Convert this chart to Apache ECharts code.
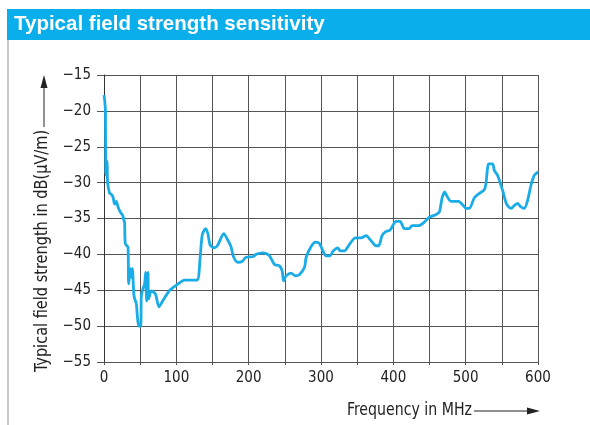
<!DOCTYPE html>
<html>
<head>
<meta charset="utf-8">
<script src="https://cdn.jsdelivr.net/npm/echarts@6/dist/echarts.min.js"></script>
<style>
  html, body { margin: 0; padding: 0; background: #fff; }
  #chart { width: 590px; height: 425px; }
</style>
</head>
<body>
<div id="chart"></div>
<script>
// frequency in MHz
var freq = [0, 1, 2, 2.4, 3.5, 4.3, 5, 7.8, 10, 12.4, 14.7, 17, 19.4, 22, 24, 26, 27.7, 28.5, 29.5, 33.2,
  33.6, 34.1, 36.4, 37.8, 39.2, 41.5, 44.7, 46.1, 48, 50.7, 51.6, 53.9, 56.2, 57.6, 59, 60.8, 61.8, 65.4,
  71, 76, 81.7, 90.8, 100, 111.5, 128.4, 133, 135.8, 140.4, 143.6, 146.8, 152.8, 157.3, 165.6, 171.1,
  175.7, 178.9, 184.9, 190.8, 196.3, 206.4, 210.1, 219.3, 224.2, 228.8, 235.7, 242.6, 246.3, 248.2,
  251.8, 258.7, 264.7, 270.3, 277.2, 279.5, 286.4, 292.4, 298, 303.4, 307.1, 312.6, 316.3, 323.2, 326.4,
  332.4, 339.3, 347.6, 355.4, 362.3, 369.2, 376.1, 379.8, 384.4, 389.9, 395.5, 403.8, 409.3, 415.3,
  422.2, 425.9, 435.1, 442.9, 449.8, 458.1, 463.6, 467.3, 471, 473.7, 479.7, 490.3, 496.8, 500.5, 505.1,
  512, 518.9, 525.8, 528.1, 531.8, 537.3, 539.6, 544.2, 551.1, 556.6, 562.6, 567.2, 571.8, 575.5, 581,
  585.6, 590.2, 594.8, 600];
// typical field strength in dB(uV/m)
var level = [-17.8, -18.6, -20, -28.5, -29, -27, -30, -31.5, -31.6, -32, -33, -32.6, -33.4, -34, -34.3, -34.6, -35.3, -35.6, -38.5, -39,
  -41, -44.1, -42, -43.2, -42, -45.8, -46.9, -48.6, -50, -50, -45.8, -44.8, -44.1, -42.5, -46.5, -42.5, -46.2, -45.1,
  -45.5, -47.3, -46.4, -45, -44.3, -43.6, -43.6, -40.3, -37.3, -36.4, -37.1, -38.7, -39.1, -38.7, -37.1, -38,
  -38.95, -40.3, -41.1, -41, -40.4, -40.3, -40, -39.8, -39.9, -40.2, -41.4, -41.6, -42.3, -43.7,
  -43, -42.6, -43, -42.8, -41.8, -40.4, -38.9, -38.3, -38.5, -39.7, -40.2, -40.2, -39.6, -39.1, -39.5,
  -39.5, -38.6, -37.7, -37.7, -37.4, -38.1, -38.8, -38.8, -37.4, -36.8, -36.6, -35.4, -35.4, -36.4,
  -36.4, -36, -36, -35.5, -34.8, -34.5, -34.1, -32.2, -31.3, -31.8, -32.6, -32.6, -33.2, -33.6, -33.6,
  -32.1, -31.5, -31, -30.1, -27.4, -27.4, -28.3, -29, -31.1, -33, -33.6, -33.2, -32.9, -33.3, -33.6,
  -32.5, -30.4, -29, -28.5];

var xTicks = [0, 100, 200, 300, 400, 500, 600];
var yTicks = [-55, -50, -45, -40, -35, -30, -25, -20, -15];

var pts = freq.map(function (f, i) { return [f, level[i]]; });

var narrow = "'DejaVu Sans Condensed', 'Liberation Sans Narrow', sans-serif";

var chart = echarts.init(document.getElementById('chart'));
var option = {
  animation: false,
  backgroundColor: '#fff',
  grid: { left: 104, right: 52, top: 75, bottom: 63 },
  xAxis: {
    type: 'value',
    min: 0, max: 600, interval: 50,
    axisLine: { lineStyle: { color: '#555', width: 1 } },
    axisTick: { show: true, length: 3, lineStyle: { color: '#555' } },
    splitLine: { lineStyle: { color: '#555', width: 1 } },
    axisLabel: {
      margin: 9, fontSize: 15, color: '#222', fontFamily: narrow,
      formatter: function (v) { return xTicks.indexOf(v) >= 0 ? String(v) : ''; }
    }
  },
  yAxis: {
    type: 'value',
    min: -55, max: -15, interval: 5,
    axisLine: { show: true, lineStyle: { color: '#333', width: 1 } },
    axisTick: { show: true, length: 7, lineStyle: { color: '#555' } },
    splitLine: { lineStyle: { color: '#555', width: 1 } },
    axisLabel: {
      margin: 13, fontSize: 15, color: '#222', fontFamily: narrow,
      formatter: function (v) {
        return yTicks.indexOf(v) >= 0 ? String(v).replace('-', '\u2212') : '';
      }
    }
  },
  series: [{
    type: 'line',
    data: pts,
    showSymbol: false,
    smooth: 0.25,
    lineStyle: { color: '#1aace6', width: 2.8 },
    z: 5
  }],
  graphic: [
    { type: 'rect', shape: { x: 7, y: 9, width: 583, height: 31 }, style: { fill: '#0aaeea' } },
    { type: 'text', x: 14, y: 24, style: { text: 'Typical field strength sensitivity', fill: '#fff',
      font: "bold 20.5px 'Liberation Sans', Arial, sans-serif", verticalAlign: 'middle' } },
    { type: 'line', shape: { x1: 8, y1: 40, x2: 8, y2: 425 }, style: { stroke: '#c8c8c8', lineWidth: 2 } },
    { type: 'text', x: 43, y: 251, rotation: Math.PI / 2, scaleX: 0.95,
      style: { text: 'Typical field strength in dB(\u00b5V/m)', fill: '#222',
        font: '17px ' + narrow, align: 'center', verticalAlign: 'middle' } },
    { type: 'line', shape: { x1: 44, y1: 127, x2: 44, y2: 86 }, style: { stroke: '#222', lineWidth: 1 } },
    { type: 'polygon', shape: { points: [[44, 75], [40.5, 88], [47.5, 88]] }, style: { fill: '#222' } },
    { type: 'text', x: 472, y: 411, scaleX: 0.925,
      style: { text: 'Frequency in MHz', fill: '#222', font: '17px ' + narrow, align: 'right', verticalAlign: 'middle' } },
    { type: 'line', shape: { x1: 474, y1: 411, x2: 530, y2: 411 }, style: { stroke: '#222', lineWidth: 1 } },
    { type: 'polygon', shape: { points: [[540, 411], [527, 407.5], [527, 414.5]] }, style: { fill: '#222' } }
  ]
};
chart.setOption(option);
</script>
</body>
</html>
